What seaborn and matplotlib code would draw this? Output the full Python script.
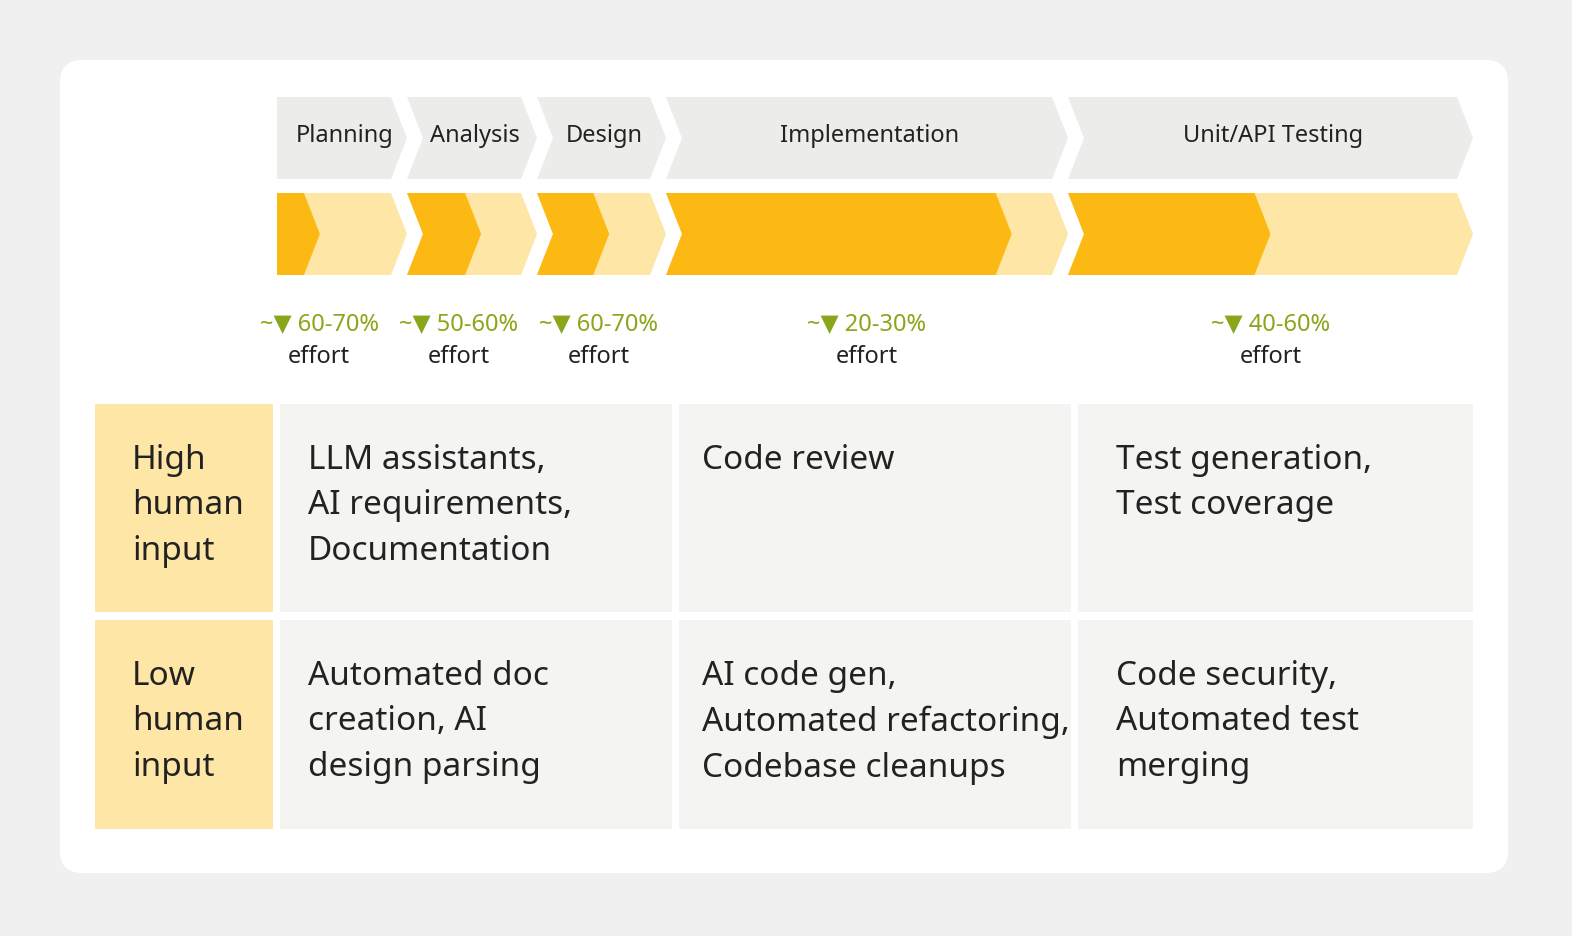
import matplotlib
matplotlib.use("Agg")
import matplotlib.pyplot as plt
import seaborn as sns
from matplotlib.patches import Polygon, FancyBboxPatch, Rectangle

sns.set_theme(style="white")
plt.rcParams["font.family"] = ["Noto Sans", "DejaVu Sans"]

phases = ["Planning", "Analysis", "Design", "Implementation", "Unit/API Testing"]
phase_edges = [277, 407, 537, 666, 1068, 1473]
dark_fraction = [0.33, 0.57, 0.56, 0.86, 0.50]
effort = ["60-70%", "50-60%", "60-70%", "20-30%", "40-60%"]
row_labels = ["High\nhuman\ninput", "Low\nhuman\ninput"]
high_tasks = ["LLM assistants,\nAI requirements,\nDocumentation", "Code review", "Test generation,\nTest coverage"]
low_tasks = ["Automated doc\ncreation, AI\ndesign parsing", "AI code gen,\nAutomated refactoring,\nCodebase cleanups",
             "Code security,\nAutomated test\nmerging"]

W, H = 1572, 936
fig = plt.figure(figsize=(W/100, H/100), dpi=100)
ax = fig.add_axes([0, 0, 1, 1])
ax.set_xlim(0, W); ax.set_ylim(H, 0); ax.axis("off")
fig.patch.set_facecolor("#f0f0f0")
ax.add_patch(FancyBboxPatch((60, 60), 1448, 813, boxstyle="round,pad=0,rounding_size=22",
                            fc="white", ec="none"))

D = 16
def chevron(x0, x1, y0, y1, notch, color):
    ym = (y0 + y1) / 2
    pts = [(x0, y0), (x1 - D, y0), (x1, ym), (x1 - D, y1), (x0, y1)]
    if notch:
        pts.append((x0 + D, ym))
    ax.add_patch(Polygon(pts, closed=True, fc=color, ec="none"))

label_shift = [-23, -13, -3, 0, 0]
for i, name in enumerate(phases):
    x0, x1 = phase_edges[i], phase_edges[i + 1]
    notch = i > 0
    chevron(x0, x1, 97, 179, notch, "#ececea")
    ax.text((x0 + x1) / 2 + 3, 136, name, ha="center", va="center", fontsize=17, color="#222")
    chevron(x0, x1, 193, 275, notch, "#fde6a6")
    xd = x0 + dark_fraction[i] * (x1 - x0)
    chevron(x0, xd, 193, 275, notch, "#fdb913")
    cx = (x0 + x1) / 2 + label_shift[i]
    ax.text(cx, 324, "~▼ " + effort[i], ha="center", va="center", fontsize=17,
            color="#8aa61a", fontweight="bold")
    ax.text(cx, 357, "effort", ha="center", va="center", fontsize=17, color="#222")

rows = [(404, 612), (620, 829)]
cols = [(280, 672), (679, 1071), (1078, 1473)]
for r, (y0, y1) in enumerate(rows):
    ax.add_patch(Rectangle((95, y0), 178, y1 - y0, fc="#fde6a6", ec="none"))
    ax.text(132, y0 + 40, row_labels[r], ha="left", va="top", fontsize=24,
            color="#222", linespacing=1.5)
    tasks = high_tasks if r == 0 else low_tasks
    for c, (x0, x1) in enumerate(cols):
        ax.add_patch(Rectangle((x0, y0), x1 - x0, y1 - y0, fc="#f4f4f2", ec="none"))
        ax.text(x0 + 28 + (10 if c == 2 else 0) - (5 if c == 1 else 0), y0 + 40, tasks[c],
                ha="left", va="top", fontsize=24, color="#222", linespacing=1.5)

fig.savefig("out.png", dpi=100, facecolor=fig.get_facecolor())
